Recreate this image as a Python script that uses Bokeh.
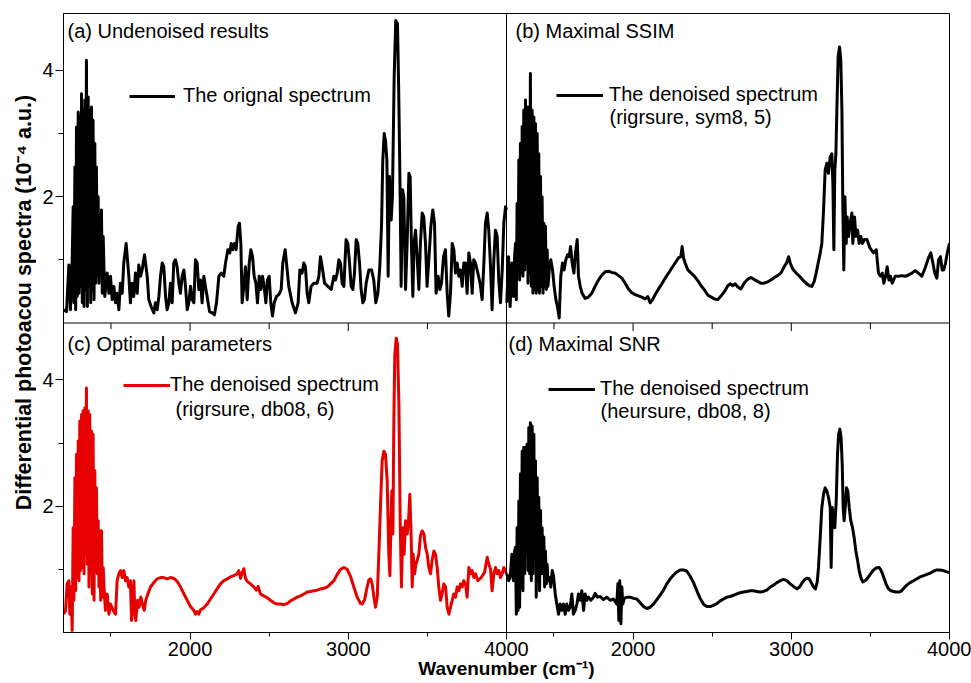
from math import pi
from bokeh.plotting import figure
from bokeh.layouts import row
from bokeh.models import Range1d, LinearAxis, FixedTicker, Span, Label, Legend, LegendItem
from bokeh.embed import file_html
from bokeh.resources import INLINE

# ---------------- data ----------------
XMIN, XMAX = 1200, 4000
YMAX = 4.9
X_MAJOR = [2000, 3000, 4000]
X_MINOR = [1500, 2500, 3500]
Y_MAJOR = [2, 4]
Y_MINOR = [1, 3]

X_LABEL = "Wavenumber (cm\u207b\u00b9)"
Y_LABEL = "Differential photoacou spectra (10\u207b\u2074 a.u.)"
TITLES = ["(a) Undenoised results", "(b) Maximal SSIM", "(c) Optimal parameters", "(d) Maximal SNR"]
LEG1 = ["The orignal spectrum", "The denoised spectrum", "The denoised spectrum", "The denoised spectrum"]
LEG2 = ["", "(rigrsure, sym8, 5)", "(rigrsure, db08, 6)", "(heursure, db08, 8)"]

# (a) undenoised spectrum
A_X = [1202, 1219, 1234, 1244, 1255,
       1261, 1266, 1272, 1277, 1282, 1287, 1293, 1298, 1303, 1308, 1314, 1319, 1324, 1330, 1335, 1340,
       1345, 1351, 1356, 1361, 1366, 1372, 1377, 1382, 1387, 1393, 1398, 1403, 1408, 1414, 1419, 1424,
       1429, 1435, 1440, 1445, 1451, 1456,
       1461, 1476, 1487, 1497, 1508, 1518, 1529, 1539, 1550, 1560, 1571, 1581, 1596, 1613, 1623, 1634,
       1644, 1655, 1666, 1676, 1687, 1697, 1712, 1729, 1739, 1754, 1771, 1781, 1792, 1803, 1813, 1824,
       1834, 1845, 1855, 1866, 1876, 1887, 1897, 1908, 1918, 1929, 1939, 1950, 1961, 1971, 1982, 1992,
       2003, 2013, 2024, 2034, 2045, 2055, 2066, 2076, 2087, 2097, 2108, 2123, 2140, 2154, 2167, 2182,
       2197, 2213, 2224, 2239, 2251, 2260, 2270, 2281, 2291, 2304, 2312, 2321, 2329, 2340, 2350, 2361,
       2374, 2384, 2395, 2405, 2416, 2426, 2437, 2447, 2458, 2468, 2479, 2489, 2500, 2510, 2521, 2532,
       2546, 2561, 2576, 2586, 2601, 2624, 2645, 2666, 2683, 2694, 2708, 2719, 2729, 2740, 2750, 2765,
       2782, 2803, 2814, 2824, 2835, 2850, 2871, 2892, 2909, 2919, 2930, 2940, 2951, 2961, 2972, 2986,
       2997, 3008, 3018, 3029, 3039, 3050, 3060, 3071, 3081, 3092, 3102, 3113, 3130, 3147, 3161, 3174,
       3187, 3199, 3210, 3218, 3227, 3235, 3244, 3252, 3260, 3271, 3279, 3290, 3300, 3311, 3319, 3328,
       3334, 3343, 3351, 3362, 3372, 3383, 3391, 3399, 3408, 3416, 3425, 3435, 3446, 3456, 3467, 3477,
       3488, 3498, 3509, 3522, 3534, 3545, 3555, 3568, 3579, 3589, 3602, 3614, 3625, 3635, 3646, 3657,
       3667, 3678, 3688, 3699, 3709, 3720, 3730, 3741, 3751, 3762, 3772, 3783, 3793, 3804, 3819, 3833,
       3846, 3857, 3867, 3878, 3888, 3899, 3909, 3920, 3930, 3941, 3951, 3962, 3973, 3983, 3994, 4000]
A_Y = [0.21, 0.18, 0.92, 0.21, 1.0,
       1.84, 0.32, 2.47, 0.21, 3.1, 0.42, 3.34, 0.47, 3.26, 0.58, 3.63, 0.32, 3.37, 0.26, 3.53, 0.53,
       4.16, 0.26, 3.58, 0.58, 3.37, 0.32, 3.42, 0.53, 3.21, 0.37, 2.84, 0.63, 2.47, 0.74, 2.0, 0.63,
       1.68, 0.84, 1.79, 0.47, 1.37, 0.84,
       0.42, 0.79, 0.47, 0.74, 0.37, 0.58, 0.32, 0.47, 0.21, 0.63, 0.47, 0.95, 1.26, 0.74, 0.32, 0.63,
       0.42, 0.79, 0.47, 0.92, 0.74, 0.84, 1.08, 0.74, 0.37, 0.26, 0.16, 0.32, 0.21, 0.42, 0.74, 0.95,
       0.89, 0.42, 0.21, 0.32, 0.63, 0.32, 0.95, 1.0, 0.89, 0.63, 0.47, 0.74, 0.84, 0.58, 0.21, 0.32,
       0.58, 0.37, 0.32, 1.0, 0.95, 0.53, 0.68, 0.32, 0.74, 0.58, 0.42, 0.18, 0.16, 0.13, 0.32, 0.74,
       0.79, 0.74, 0.95, 1.16, 1.11, 1.26, 1.16, 1.26, 1.16, 1.53, 1.58, 1.26, 0.32, 0.58, 0.89, 0.37,
       0.95, 1.16, 1.05, 0.74, 0.63, 0.32, 0.74, 0.53, 0.74, 0.58, 0.32, 0.68, 0.74, 0.32, 0.11, 0.32,
       0.42, 0.45, 0.53, 0.95, 1.16, 0.58, 0.32, 0.16, 0.32, 0.84, 0.79, 0.95, 0.89, 0.47, 0.32, 0.58,
       0.63, 0.63, 0.74, 1.05, 0.89, 0.63, 0.58, 0.53, 0.74, 0.68, 0.79, 1.0, 0.95, 0.63, 0.58, 1.32,
       1.26, 0.95, 0.58, 0.53, 0.79, 1.32, 1.26, 0.95, 0.53, 0.32, 0.37, 0.63, 0.84, 0.84, 0.68, 0.32,
       0.47, 0.89, 1.53, 2.58, 3.0, 2.89, 2.58, 0.74, 2.32, 1.63, 2.0, 3.89, 4.79, 4.74, 3.63, 2.0,
       0.58, 2.11, 2.0, 0.53, 1.26, 2.37, 2.32, 1.26, 0.42, 1.26, 1.47, 1.05, 0.53, 1.26, 1.74, 1.68,
       1.26, 0.58, 1.0, 1.53, 1.79, 1.58, 0.47, 0.74, 0.53, 0.63, 1.05, 1.16, 0.47, 0.11, 0.47, 1.26,
       1.16, 0.79, 0.95, 0.74, 0.84, 0.58, 0.95, 0.95, 0.47, 1.11, 0.95, 0.47, 1.0, 0.95, 0.79, 0.63,
       0.37, 0.95, 1.58, 1.74, 1.47, 0.89, 0.21, 1.0, 1.47, 1.37, 0.68, 0.32, 0.84, 1.58, 1.84, 1.79]

# (b) maximal SSIM (rigrsure, sym8, 5)
B_X = [1202, 1213, 1223, 1234, 1244, 1251,
       1257, 1262, 1267, 1273, 1278, 1283, 1288, 1294, 1299, 1304, 1309, 1315, 1320, 1325, 1330, 1336,
       1341, 1346, 1351, 1357, 1362, 1367, 1373, 1378, 1383, 1388, 1394, 1399, 1404, 1409, 1415, 1420,
       1425, 1431, 1436, 1441, 1446, 1452, 1457, 1462,
       1472, 1480, 1491, 1501, 1512, 1522, 1533, 1543, 1554, 1564, 1575, 1586, 1596, 1605, 1615, 1626,
       1636, 1647, 1655, 1666, 1678, 1697, 1718, 1739, 1760, 1781, 1803, 1824, 1845, 1866, 1887, 1908,
       1929, 1950, 1971, 1992, 2013, 2034, 2055, 2076, 2093, 2108, 2123, 2140, 2161, 2182, 2203, 2224,
       2245, 2266, 2287, 2302, 2310, 2319, 2329, 2346, 2367, 2388, 2409, 2430, 2452, 2473, 2494, 2515,
       2536, 2557, 2578, 2599, 2614, 2631, 2645, 2662, 2681, 2702, 2723, 2744, 2765, 2787, 2808, 2829,
       2850, 2871, 2892, 2913, 2934, 2955, 2972, 2983, 2993, 3010, 3031, 3052, 3073, 3094, 3115, 3130,
       3145, 3157, 3170, 3183, 3193, 3204, 3214, 3225, 3235, 3246, 3256, 3263, 3269, 3275, 3282, 3288,
       3296, 3305, 3313, 3320, 3326, 3332, 3339, 3347, 3353, 3362, 3372, 3383, 3389, 3400, 3408, 3419,
       3429, 3440, 3450, 3461, 3478, 3499, 3520, 3537, 3551, 3564, 3575, 3585, 3596, 3606, 3617, 3627,
       3638, 3657, 3678, 3699, 3720, 3741, 3762, 3783, 3804, 3825, 3846, 3867, 3882, 3895, 3907, 3920,
       3931, 3943, 3954, 3964, 3975, 3986, 4000]
B_Y = [0.32, 1.05, 0.26, 0.95, 0.42, 1.05,
       1.26, 0.37, 1.89, 0.79, 2.58, 0.68, 2.84, 0.79, 3.11, 0.74, 3.37, 0.84, 3.53, 0.95, 3.42, 0.63,
       3.42, 0.79, 3.95, 0.58, 3.37, 0.47, 3.26, 0.53, 3.16, 0.47, 3.0, 0.53, 2.68, 0.47, 2.32, 0.58,
       2.0, 0.47, 1.58, 0.58, 1.53, 0.53, 1.16, 0.58,
       0.89, 1.0, 0.84, 0.58, 0.37, 0.26, 0.08, 0.74, 0.95, 0.84, 1.0, 1.08, 1.05, 1.21, 0.95, 0.79,
       1.11, 1.32, 0.74, 0.58, 0.47, 0.39, 0.41, 0.47, 0.58, 0.68, 0.76, 0.81, 0.82, 0.8, 0.79, 0.75,
       0.71, 0.63, 0.54, 0.48, 0.45, 0.43, 0.41, 0.38, 0.42, 0.32, 0.37, 0.45, 0.54, 0.62, 0.71, 0.79,
       0.87, 0.95, 1.03, 1.05, 1.21, 1.03, 0.95, 0.84, 0.79, 0.74, 0.67, 0.59, 0.52, 0.44, 0.41, 0.38,
       0.37, 0.43, 0.5, 0.59, 0.62, 0.59, 0.62, 0.57, 0.54, 0.63, 0.69, 0.72, 0.69, 0.66, 0.63, 0.63,
       0.65, 0.68, 0.72, 0.75, 0.79, 0.89, 0.96, 1.05, 0.95, 0.85, 0.79, 0.74, 0.68, 0.63, 0.59, 0.58,
       0.66, 0.79, 0.95, 1.11, 1.26, 1.79, 2.42, 2.53, 2.37, 2.63, 2.68, 2.21, 1.16, 2.42, 2.68, 3.37,
       4.21, 4.37, 4.16, 3.37, 1.79, 0.84, 2.0, 1.26, 1.68, 1.37, 1.58, 1.74, 1.26, 1.68, 1.37, 1.47,
       1.26, 1.37, 1.26, 1.32, 1.32, 1.18, 1.11, 1.16, 0.79, 0.74, 0.79, 0.63, 0.74, 0.89, 0.68, 0.74,
       0.63, 0.74, 0.74, 0.75, 0.74, 0.76, 0.79, 0.83, 0.79, 0.74, 0.87, 1.03, 1.11, 0.95, 0.79, 0.71,
       1.0, 1.05, 0.84, 0.84, 0.95, 1.11, 1.26]

# (c) optimal parameters (rigrsure, db08, 6)
C_X = [1202, 1213, 1223, 1234, 1240, 1248, 1255,
       1261, 1266, 1272, 1277, 1282, 1287, 1293, 1298, 1303, 1308, 1314, 1319, 1324, 1330, 1335, 1340,
       1345, 1351, 1356, 1361, 1366, 1372, 1377, 1382, 1387, 1393, 1398, 1403, 1408, 1414, 1419, 1424,
       1429, 1435, 1440, 1445, 1451, 1456,
       1465, 1476, 1487, 1497, 1514, 1529, 1539, 1550, 1560, 1571, 1581, 1592, 1602, 1613, 1623, 1630,
       1636, 1645, 1651, 1657, 1668, 1678, 1689, 1699, 1710, 1720, 1733, 1750, 1771, 1792, 1813, 1834,
       1855, 1876, 1897, 1918, 1940, 1961, 1982, 2003, 2024, 2034, 2045, 2055, 2066, 2087, 2108, 2129,
       2150, 2171, 2192, 2213, 2235, 2256, 2277, 2298, 2308, 2319, 2329, 2340, 2350, 2361, 2382, 2403,
       2420, 2430, 2445, 2466, 2487, 2508, 2530, 2551, 2572, 2593, 2614, 2635, 2656, 2677, 2698, 2719,
       2740, 2761, 2782, 2803, 2824, 2845, 2867, 2888, 2909, 2930, 2951, 2972, 2993, 3014, 3035, 3056,
       3077, 3088, 3103, 3119, 3130, 3141, 3151, 3162, 3172, 3183, 3193, 3204, 3214, 3225, 3235, 3246,
       3256, 3263, 3269, 3275, 3282, 3288, 3294, 3303, 3311, 3320, 3328, 3336, 3345, 3353, 3362, 3372,
       3381, 3389, 3397, 3404, 3410, 3419, 3427, 3435, 3446, 3456, 3467, 3478, 3488, 3499, 3509, 3520,
       3530, 3541, 3551, 3562, 3572, 3583, 3593, 3604, 3615, 3625, 3636, 3646, 3657, 3667, 3678, 3688,
       3699, 3709, 3720, 3730, 3741, 3751, 3762, 3773, 3783, 3794, 3804, 3819, 3840, 3861, 3878, 3888,
       3899, 3909, 3920, 3931, 3941, 3952, 3962, 3973, 3983, 4000]
C_Y = [0.29, 0.35, 0.77, 0.82, 0.29, 0.72, 0.03,
       1.66, 0.51, 2.45, 0.66, 2.82, 0.87, 3.03, 0.82, 3.35, 0.98, 3.45, 1.03, 3.51, 0.93, 3.56, 1.24,
       3.87, 1.08, 3.51, 0.72, 3.45, 0.93, 3.19, 0.61, 3.14, 0.51, 2.56, 0.98, 2.29, 0.93, 1.77, 0.72,
       1.61, 0.51, 1.61, 0.56, 1.03, 0.72,
       0.35, 0.61, 0.29, 0.45, 0.35, 0.29, 0.82, 0.93, 0.98, 0.87, 0.98, 0.82, 0.87, 0.72, 0.82, 0.19,
       0.4, 0.82, 0.29, 0.19, 0.51, 0.4, 0.56, 0.45, 0.35, 0.51, 0.61, 0.72, 0.79, 0.85, 0.87, 0.87,
       0.85, 0.87, 0.86, 0.81, 0.72, 0.61, 0.51, 0.41, 0.35, 0.29, 0.33, 0.29, 0.36, 0.39, 0.45, 0.53,
       0.61, 0.69, 0.77, 0.82, 0.85, 0.88, 0.9, 0.93, 0.98, 0.86, 0.94, 1.01, 0.86, 0.81, 0.77, 0.72,
       0.67, 0.73, 0.61, 0.58, 0.55, 0.51, 0.47, 0.45, 0.45, 0.44, 0.46, 0.5, 0.53, 0.56, 0.58, 0.61,
       0.64, 0.65, 0.66, 0.67, 0.69, 0.7, 0.72, 0.77, 0.82, 0.92, 1.0, 1.03, 1.0, 0.89, 0.72, 0.56,
       0.46, 0.45, 0.52, 0.72, 0.83, 0.85, 0.77, 0.56, 0.4, 0.56, 1.24, 2.03, 2.72, 2.87, 2.82, 2.4,
       1.24, 0.9, 1.66, 2.24, 1.56, 3.35, 4.4, 4.66, 4.56, 3.61, 1.77, 0.72, 1.66, 1.24, 1.77, 1.56,
       1.77, 2.19, 1.56, 0.72, 1.24, 0.93, 1.08, 1.14, 1.24, 1.53, 1.61, 1.56, 1.35, 1.24, 1.03, 0.93,
       1.14, 1.29, 1.24, 1.03, 0.72, 0.51, 0.61, 0.77, 0.72, 0.4, 0.29, 0.4, 0.51, 0.61, 0.56, 0.72,
       0.66, 0.77, 0.72, 0.82, 0.77, 0.56, 1.03, 0.93, 0.98, 0.87, 0.93, 0.82, 0.87, 0.95, 1.19, 1.08,
       1.01, 0.66, 0.93, 1.03, 0.93, 0.98, 0.87, 0.93, 1.03, 0.93]

# (d) maximal SNR (heursure, db08, 8)
D_X = [1202, 1213, 1223, 1234, 1244, 1251,
       1257, 1262, 1267, 1273, 1278, 1283, 1288, 1294, 1299, 1304, 1309, 1315, 1320, 1325, 1330, 1336,
       1341, 1346, 1351, 1357, 1362, 1367, 1373, 1378, 1383, 1388, 1394, 1399, 1404, 1409, 1415, 1420,
       1425, 1431, 1436, 1441, 1446, 1452, 1457, 1462,
       1472, 1480, 1489, 1497, 1508, 1518, 1529, 1539, 1550, 1560, 1571, 1581, 1592, 1602, 1613, 1623,
       1634, 1645, 1655, 1666, 1676, 1687, 1697, 1708, 1718, 1733, 1750, 1760, 1775, 1792, 1813, 1834,
       1855, 1876, 1897, 1904, 1910, 1916, 1923, 1929, 1935, 1944, 1961, 1982, 2003, 2024, 2045, 2066,
       2087, 2108, 2129, 2150, 2171, 2192, 2213, 2235, 2256, 2277, 2298, 2319, 2340, 2361, 2382, 2403,
       2424, 2445, 2466, 2487, 2508, 2530, 2551, 2572, 2593, 2614, 2635, 2656, 2677, 2698, 2719, 2740,
       2761, 2782, 2803, 2824, 2845, 2867, 2888, 2909, 2930, 2951, 2972, 2993, 3014, 3035, 3052, 3067,
       3082, 3098, 3113, 3126, 3141, 3153, 3164, 3172, 3183, 3193, 3204, 3214, 3225, 3235, 3246, 3252,
       3259, 3267, 3275, 3284, 3292, 3299, 3307, 3315, 3322, 3328, 3334, 3341, 3349, 3357, 3366, 3376,
       3387, 3397, 3408, 3419, 3429, 3440, 3452, 3467, 3482, 3499, 3516, 3535, 3556, 3570, 3585, 3600,
       3615, 3630, 3646, 3663, 3680, 3697, 3714, 3730, 3751, 3773, 3794, 3815, 3836, 3857, 3878, 3899,
       3920, 3941, 3962, 3983, 4000]
D_Y = [0.93, 0.82, 0.87, 1.24, 0.82, 1.29,
       1.35, 0.29, 1.66, 0.35, 2.08, 0.4, 2.51, 0.72, 2.87, 0.66, 2.93, 0.93, 2.93, 1.24, 2.98, 0.98,
       3.24, 0.93, 3.32, 0.82, 3.27, 0.93, 3.14, 1.14, 2.72, 0.56, 2.45, 0.82, 2.14, 0.66, 1.93, 0.93,
       1.66, 0.93, 1.51, 0.72, 1.29, 0.77, 1.08, 0.82,
       0.87, 0.72, 0.98, 0.9, 0.61, 0.45, 0.29, 0.45, 0.35, 0.45, 0.29, 0.45, 0.35, 0.4, 0.61, 0.29,
       0.35, 0.45, 0.61, 0.51, 0.66, 0.35, 0.61, 0.51, 0.56, 0.51, 0.56, 0.62, 0.56, 0.57, 0.52, 0.56,
       0.51, 0.53, 0.45, 0.77, 0.19, 0.82, 0.14, 0.72, 0.45, 0.54, 0.56, 0.56, 0.54, 0.53, 0.47, 0.41,
       0.38, 0.4, 0.45, 0.52, 0.59, 0.67, 0.77, 0.85, 0.91, 0.96, 0.99, 0.99, 0.97, 0.89, 0.79, 0.66,
       0.54, 0.45, 0.41, 0.41, 0.43, 0.46, 0.5, 0.53, 0.56, 0.57, 0.59, 0.61, 0.63, 0.64, 0.65, 0.66,
       0.66, 0.65, 0.64, 0.65, 0.67, 0.72, 0.75, 0.79, 0.82, 0.84, 0.82, 0.77, 0.73, 0.69, 0.72, 0.78,
       0.83, 0.86, 0.85, 0.79, 0.72, 0.69, 0.8, 1.03, 1.51, 1.98, 2.19, 2.29, 2.24, 2.14, 1.98, 1.03,
       1.98, 1.77, 1.66, 2.08, 2.82, 3.14, 3.22, 3.08, 2.66, 1.98, 1.77, 1.98, 2.29, 2.24, 1.98, 1.77,
       1.66, 1.51, 1.29, 1.14, 0.98, 0.87, 0.8, 0.82, 0.86, 0.92, 0.98, 1.02, 1.03, 0.97, 0.87, 0.76,
       0.69, 0.66, 0.65, 0.64, 0.64, 0.66, 0.71, 0.75, 0.79, 0.82, 0.85, 0.88, 0.9, 0.92, 0.94, 0.97,
       0.99, 0.99, 0.98, 0.96, 0.95]

# ---------------- layout ----------------
W, H = 971, 683
YLAB_W = 36                          # narrow strip holding the shared y-axis title
ML, MR, MT, MB = 63 - YLAB_W, 22, 13, 51
FRAME_H = H - MT - MB
PPU = FRAME_H / (2 * YMAX)          # pixels per y unit
XOFF = XMAX - XMIN
FONT = "Liberation Sans"
BLACK = "#000000"
RED = "#e60000"
LW = 3
LABEL_DY = 9                         # baseline correction for screen-unit labels

p = figure(width=W - YLAB_W, height=H, x_range=Range1d(XMIN, XMAX + XOFF), y_range=Range1d(0, 2 * YMAX),
           x_axis_location=None, y_axis_location=None, toolbar_location=None,
           output_backend="svg", min_border_left=ML, min_border_right=MR,
           min_border_top=MT, min_border_bottom=MB)
p.extra_x_ranges = {"R": Range1d(XMIN - XOFF, XMAX)}
p.extra_y_ranges = {"T": Range1d(-YMAX, YMAX)}
p.grid.visible = False
p.outline_line_color = BLACK
p.outline_line_width = 1
p.background_fill_color = "white"
p.border_fill_color = "white"

def style_axis(ax, maj, mnr):
    ax.axis_line_color = BLACK
    ax.major_tick_line_color = BLACK
    ax.minor_tick_line_color = BLACK
    ax.major_tick_in = 0
    ax.major_tick_out = maj
    ax.minor_tick_in = 0
    ax.minor_tick_out = mnr
    ax.major_label_standoff = 2
    ax.major_label_text_font = FONT
    ax.major_label_text_font_size = "20px"
    ax.major_label_text_color = BLACK

xt = X_MAJOR + [t + XOFF for t in X_MAJOR]
xm = X_MINOR + [t + XOFF for t in X_MINOR]
xax = LinearAxis(ticker=FixedTicker(ticks=xt, minor_ticks=xm),
                 major_label_overrides={t + XOFF: str(t) for t in X_MAJOR})
style_axis(xax, 7, 4)
xax.axis_label = X_LABEL
xax.axis_label_text_font = FONT
xax.axis_label_text_font_size = "19px"
xax.axis_label_text_font_style = "bold"
xax.axis_label_text_color = BLACK
xax.axis_label_standoff = -1
p.add_layout(xax, "below")

yt = Y_MAJOR + [t + YMAX for t in Y_MAJOR]
ym = Y_MINOR + [t + YMAX for t in Y_MINOR]
yax = LinearAxis(ticker=FixedTicker(ticks=yt, minor_ticks=ym),
                 major_label_overrides={t + YMAX: str(t) for t in Y_MAJOR})
style_axis(yax, 8, 5)
p.add_layout(yax, "left")

# panel dividers
p.add_layout(Span(location=XMAX, dimension="height", line_color=BLACK, line_width=1))
p.add_layout(Span(location=YMAX, dimension="width", line_color=BLACK, line_width=1))

# ticks of the upper panels' x axes, pointing down into the lower panels
p.segment(x0=xt, x1=xt, y0=[YMAX] * len(xt), y1=[YMAX - 8 / PPU] * len(xt),
          line_color=BLACK, line_width=1)
p.segment(x0=xm, x1=xm, y0=[YMAX] * len(xm), y1=[YMAX - 6 / PPU] * len(xm),
          line_color=BLACK, line_width=1)

# spectra
ra = p.line(A_X, A_Y, y_range_name="T", line_color=BLACK, line_width=LW, line_join="round")
rb = p.line(B_X, B_Y, x_range_name="R", y_range_name="T", line_color=BLACK, line_width=LW, line_join="round")
rc = p.line(C_X, C_Y, line_color=RED, line_width=LW, line_join="round")
rd = p.line(D_X, D_Y, x_range_name="R", line_color=BLACK, line_width=LW, line_join="round")

# panel titles (screen px relative to frame bottom-left)
title_pos = [(4, 593), (452, 593), (4, 280), (445, 280)]
for t, (sx, sy) in zip(TITLES, title_pos):
    p.add_layout(Label(x=sx, y=sy + LABEL_DY, x_units="screen", y_units="screen", text=t,
                       text_font=FONT, text_font_size="20px", text_color=BLACK,
                       text_baseline="alphabetic", text_align="left"))

# legends
leg_specs = [(ra, (66, 525), 46, 8), (rb, (493, 526), 47, 6),
             (rc, (60, 236), 47, 0), (rd, (485, 232), 47, 5)]
for (r, loc, gw, st), lab in zip(leg_specs, LEG1):
    lg = Legend(items=[LegendItem(label=lab, renderers=[r])], location=loc,
                glyph_width=gw, glyph_height=20, label_height=20, label_standoff=st,
                padding=0, margin=0, spacing=0, border_line_color=None,
                background_fill_alpha=0, label_text_font=FONT,
                label_text_font_size="20px", label_text_color=BLACK)
    p.add_layout(lg)

leg2_pos = [None, (546, 507), (112, 215), (537, 213)]
for t, pos in zip(LEG2, leg2_pos):
    if pos is None:
        continue
    p.add_layout(Label(x=pos[0], y=pos[1] + LABEL_DY, x_units="screen", y_units="screen", text=t,
                       text_font=FONT, text_font_size="20px", text_color=BLACK,
                       text_baseline="alphabetic", text_align="left"))

# shared y-axis title in its own strip
ylab = figure(width=YLAB_W, height=H, x_range=Range1d(0, YLAB_W), y_range=Range1d(0, H),
              x_axis_location=None, y_axis_location=None, toolbar_location=None,
              output_backend="svg", min_border_left=0, min_border_right=0,
              min_border_top=0, min_border_bottom=0)
ylab.grid.visible = False
ylab.outline_line_color = None
ylab.background_fill_color = "white"
ylab.border_fill_color = "white"
ylab.add_layout(Label(x=23, y=H - 303 - 50, x_units="screen", y_units="screen", text=Y_LABEL,
                      angle=pi / 2, text_font=FONT, text_font_size="21.5px", text_font_style="bold",
                      text_color=BLACK, text_align="center", text_baseline="middle"))

layout = row(ylab, p, spacing=0)
open("out.html", "w").write(file_html(layout, INLINE))
